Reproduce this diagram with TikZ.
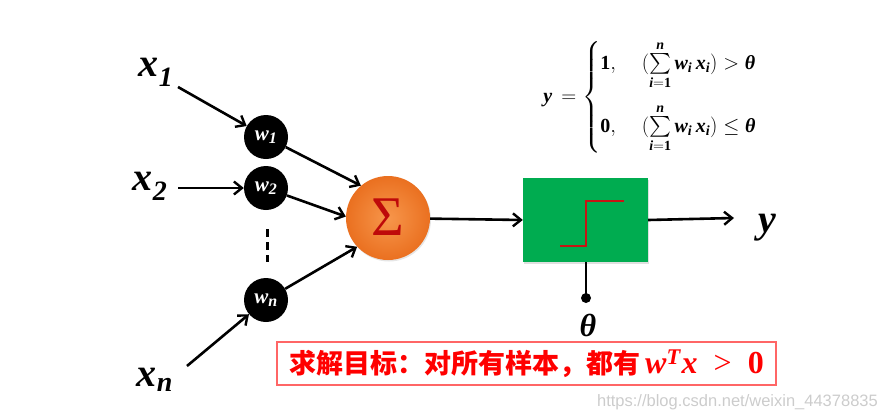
\documentclass[tikz,border=0pt]{standalone}
\usepackage{amsmath}
\usepackage{fontspec}
\setmainfont{Liberation Serif}
\newfontfamily\cjk{Noto Sans CJK SC}
\newfontfamily\wmfont{Liberation Sans}
\usetikzlibrary{arrows.meta,shadows}
\definecolor{boxgreen}{RGB}{0,172,80}
\definecolor{stepred}{RGB}{200,20,20}
\definecolor{sigred}{RGB}{190,10,10}
\definecolor{orgin}{RGB}{247,150,75}
\definecolor{orgout}{RGB}{234,112,32}
\definecolor{goalred}{RGB}{255,0,0}
\newcommand{\bi}[1]{\text{\bfseries\itshape #1}}
\newcommand{\bu}[1]{\text{\bfseries #1}}
\newsavebox{\eqbox}
\newsavebox{\goalbox}
\begin{document}
\sbox{\eqbox}{\fontsize{20}{24}\selectfont$\displaystyle \bi{y}\,=\begin{cases}\bu{1}, & \;(\sum\limits_{\bi{i}=\bu{1}}^{\bi{n}} \bi{w}_{\bi{i}}\, \bi{x}_{\bi{i}}) > \bi{θ}\\[26pt] \bu{0}, & \;(\sum\limits_{\bi{i}=\bu{1}}^{\bi{n}} \bi{w}_{\bi{i}}\, \bi{x}_{\bi{i}}) \leq \bi{θ}\end{cases}$}%
\sbox{\goalbox}{\color{goalred}{\cjk\bfseries\fontsize{27}{27}\selectfont 求解目标：对所有样本，都有}\ \ {\fontsize{32}{32}\selectfont\bfseries\itshape w\textsuperscript{T}\kern1pt x\ \ \upshape\mdseries >\ \ \bfseries 0}}%
\begin{tikzpicture}[x=1pt,y=-1pt,
  conn/.style={line width=2.6pt,-{Straight Barb[length=8pt,width=13pt,line width=2.4pt]}},
  wnode/.style={circle,fill=black,minimum size=44pt,inner sep=0pt,text=white,font=\fontsize{21}{21}\selectfont\bfseries\itshape},
  xlab/.style={font=\fontsize{40}{40}\selectfont\bfseries\itshape,inner sep=0pt}]
\useasboundingbox (0,0) rectangle (882,415);
% inputs
\node[xlab] (x1) at (156,72) {x\textsubscript{\fontsize{28}{28}\selectfont 1}};
\node[xlab] (x2) at (150,186) {x\textsubscript{\fontsize{28}{28}\selectfont 2}};
\node[xlab] (xn) at (155,380) {x\textsubscript{\fontsize{28}{28}\selectfont n}};
\coordinate (x1e) at (178,87);
\coordinate (x2e) at (178,188);
\coordinate (xne) at (187,366);
% weights
\node[wnode] (w1) at (266,137) {w\textsubscript{\fontsize{16}{16}\selectfont 1}};
\node[wnode] (w2) at (266,188) {w\textsubscript{\fontsize{16}{16}\selectfont 2}};
\node[wnode] (wn) at (266,300) {w\textsubscript{\fontsize{16}{16}\selectfont n}};
\coordinate (d1) at (267,229);
\coordinate (d2) at (267,262);
\draw[line width=3pt,dash pattern=on 8pt off 5pt] (d1) -- (d2);
% sum
\node[circle,minimum size=84pt,inner sep=0pt,inner color=orgin,outer color=orgout,
  drop shadow={opacity=0.2,shadow xshift=1pt,shadow yshift=-1.5pt},
  font=\fontsize{56}{56}\selectfont,text=sigred] (s) at (388,218) {\raisebox{1pt}{Σ}};
% box
\node[rectangle,fill=boxgreen,minimum width=125pt,minimum height=84pt,inner sep=0pt,
  drop shadow={opacity=0.25,shadow xshift=1pt,shadow yshift=-1.5pt}] (b) at (585.5,220) {};
\draw[stepred,line width=1.5pt] (560,246) -- (586,246) -- (586,201) -- (624,201);
% output
\coordinate (ye) at (734,218);
\node[font=\fontsize{40}{40}\selectfont\bfseries\itshape,inner sep=0pt] (y) at (767,228) {y};
\coordinate (th) at (586,298);
\node[font=\fontsize{32}{32}\selectfont\bfseries\itshape,inner sep=0pt] (tl) at (588,325) {θ};
% connectors
\draw[conn] (x1e) -- (w1);
\draw[conn] (x2e) -- (w2);
\draw[conn] (xne) -- (wn);
\draw[conn] (w1) -- (s.130);
\draw[conn] (w2) -- (s.178);
\draw[conn] (wn) -- (s.223);
\draw[conn] (s) -- (b.west);
\draw[conn] (b.east) -- (ye);
\draw[line width=2.6pt] (b.south -| th) -- (th);
\fill (th) circle (5pt);
% equation
\node[inner sep=0pt] (eq) at (650,97) {\usebox{\eqbox}};
% goal
\node[draw=red!60,line width=1.2pt,minimum width=499pt,minimum height=43pt,inner sep=0pt] (goal) at (526.5,363.5) {\usebox{\goalbox}};
\node[text=black!20,font=\wmfont\fontsize{16.5}{16.5}\selectfont,inner sep=0pt,anchor=east] (wm) at (878,402) {https://blog.csdn.net/weixin\_44378835};
\end{tikzpicture}
\end{document}
